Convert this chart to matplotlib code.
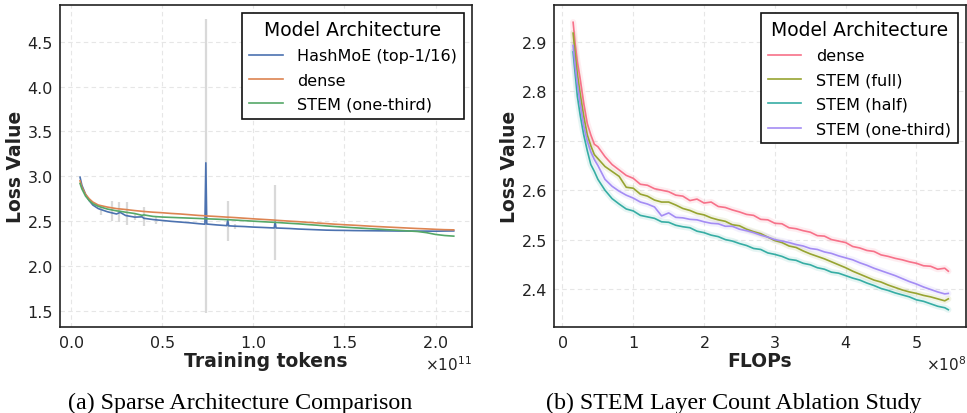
import matplotlib
matplotlib.use("Agg")
import matplotlib.pyplot as plt
import numpy as np

# ---------------- (a) Sparse Architecture Comparison ----------------
tokens_e11 = [0.05, 0.06, 0.08, 0.10, 0.12, 0.15, 0.20, 0.25, 0.27, 0.30, 0.35, 0.39, 0.40,
              0.45, 0.50, 0.55, 0.60, 0.65, 0.70, 0.735, 0.74, 0.745, 0.80, 0.855, 0.86, 0.865,
              0.90, 0.95, 1.00, 1.05, 1.115, 1.12, 1.125, 1.20, 1.25, 1.30, 1.35, 1.40, 1.45,
              1.50, 1.55, 1.60, 1.65, 1.70, 1.75, 1.80, 1.85, 1.90, 1.95, 2.00, 2.05, 2.10]

hashmoe = [2.99, 2.90, 2.80, 2.73, 2.68, 2.640, 2.605, 2.580, 2.598, 2.563, 2.545, 2.548, 2.532,
           2.518, 2.508, 2.498, 2.490, 2.482, 2.472, 2.466, 3.150, 2.468, 2.458, 2.450, 2.510, 2.448,
           2.444, 2.440, 2.434, 2.430, 2.424, 2.490, 2.424, 2.418, 2.412, 2.408, 2.404, 2.400, 2.398,
           2.397, 2.395, 2.394, 2.393, 2.392, 2.391, 2.390, 2.390, 2.389, 2.389, 2.388, 2.390, 2.391]

dense_a = [2.95, 2.88, 2.80, 2.75, 2.713, 2.680, 2.657, 2.640, 2.636, 2.630, 2.618, 2.610, 2.608,
           2.600, 2.594, 2.586, 2.580, 2.572, 2.564, 2.560, 2.559, 2.558, 2.552, 2.545, 2.545, 2.544,
           2.540, 2.533, 2.526, 2.520, 2.512, 2.511, 2.510, 2.500, 2.494, 2.487, 2.480, 2.473, 2.466,
           2.460, 2.455, 2.449, 2.443, 2.438, 2.433, 2.428, 2.423, 2.418, 2.414, 2.409, 2.405, 2.403]

stem_third_a = [2.92, 2.86, 2.78, 2.73, 2.695, 2.665, 2.635, 2.615, 2.610, 2.600, 2.585, 2.565, 2.570,
                2.553, 2.546, 2.542, 2.538, 2.534, 2.530, 2.527, 2.527, 2.526, 2.522, 2.517, 2.516, 2.516,
                2.512, 2.506, 2.500, 2.494, 2.487, 2.486, 2.486, 2.476, 2.470, 2.462, 2.455, 2.447, 2.440,
                2.433, 2.427, 2.421, 2.415, 2.409, 2.403, 2.397, 2.391, 2.385, 2.372, 2.352, 2.340, 2.333]

# gray vertical spread markers (x in 1e11, low, high)
spread_x = [0.163, 0.223, 0.263, 0.308, 0.35, 0.40, 0.466, 0.74, 0.86, 0.90, 1.12]
spread_lo = [2.57, 2.50, 2.49, 2.46, 2.51, 2.45, 2.47, 1.48, 2.28, 2.41, 2.07]
spread_hi = [2.68, 2.72, 2.71, 2.71, 2.59, 2.66, 2.55, 4.75, 2.73, 2.47, 2.90]

labels_a = ["HashMoE (top-1/16)", "dense", "STEM (one-third)"]
colors_a = ["#4C72B0", "#DD8452", "#55A868"]

# ---------------- (b) STEM Layer Count Ablation Study ----------------
flops_e8 = [0.15, 0.18, 0.21, 0.25, 0.30, 0.35, 0.40, 0.45, 0.50, 0.60, 0.70, 0.80, 0.90, 1.00,
            1.10, 1.20, 1.30, 1.40, 1.50, 1.60, 1.70, 1.80, 1.90, 2.00, 2.10, 2.20, 2.30, 2.40,
            2.50, 2.60, 2.70, 2.80, 2.90, 3.00, 3.10, 3.20, 3.30, 3.40, 3.50, 3.60, 3.70, 3.80,
            3.90, 4.00, 4.10, 4.20, 4.30, 4.40, 4.50, 4.60, 4.70, 4.80, 4.90, 5.00, 5.10, 5.20,
            5.30, 5.40, 5.45]

dense_b = [2.940, 2.895, 2.860, 2.825, 2.776, 2.735, 2.712, 2.693, 2.688, 2.668, 2.652, 2.641, 2.630, 2.624,
           2.612, 2.610, 2.603, 2.600, 2.597, 2.590, 2.588, 2.579, 2.582, 2.574, 2.576, 2.567, 2.565, 2.560,
           2.556, 2.551, 2.549, 2.541, 2.540, 2.533, 2.532, 2.524, 2.522, 2.518, 2.515, 2.508, 2.507, 2.500,
           2.497, 2.494, 2.486, 2.483, 2.478, 2.476, 2.469, 2.466, 2.462, 2.459, 2.455, 2.452, 2.447, 2.446,
           2.440, 2.442, 2.436]

stem_full = [2.918, 2.875, 2.835, 2.795, 2.750, 2.712, 2.690, 2.672, 2.664, 2.648, 2.638, 2.628, 2.606, 2.604,
             2.592, 2.588, 2.580, 2.576, 2.576, 2.570, 2.563, 2.559, 2.553, 2.550, 2.544, 2.540, 2.537, 2.530,
             2.528, 2.521, 2.516, 2.512, 2.505, 2.498, 2.494, 2.487, 2.484, 2.477, 2.471, 2.466, 2.461, 2.455,
             2.449, 2.443, 2.436, 2.430, 2.424, 2.418, 2.414, 2.408, 2.403, 2.398, 2.394, 2.391, 2.387, 2.384,
             2.380, 2.376, 2.380]

stem_half = [2.880, 2.835, 2.790, 2.752, 2.712, 2.680, 2.652, 2.638, 2.622, 2.600, 2.583, 2.572, 2.562, 2.558,
             2.549, 2.546, 2.543, 2.536, 2.535, 2.529, 2.526, 2.524, 2.517, 2.514, 2.509, 2.506, 2.500, 2.497,
             2.492, 2.488, 2.482, 2.480, 2.473, 2.470, 2.466, 2.460, 2.458, 2.452, 2.449, 2.443, 2.440, 2.434,
             2.432, 2.427, 2.422, 2.418, 2.412, 2.407, 2.401, 2.397, 2.392, 2.388, 2.384, 2.378, 2.375, 2.370,
             2.365, 2.362, 2.358]

stem_third_b = [2.893, 2.850, 2.815, 2.775, 2.730, 2.700, 2.678, 2.662, 2.650, 2.622, 2.608, 2.598, 2.590, 2.584,
                2.576, 2.572, 2.566, 2.548, 2.554, 2.545, 2.544, 2.541, 2.540, 2.536, 2.533, 2.532, 2.527, 2.527,
                2.521, 2.518, 2.514, 2.509, 2.505, 2.500, 2.497, 2.494, 2.490, 2.487, 2.482, 2.480, 2.475, 2.472,
                2.467, 2.463, 2.459, 2.453, 2.448, 2.442, 2.437, 2.432, 2.427, 2.421, 2.415, 2.410, 2.404, 2.399,
                2.394, 2.390, 2.391]

labels_b = ["dense", "STEM (full)", "STEM (half)", "STEM (one-third)"]
colors_b = ["#f77189", "#97a431", "#36ada4", "#a48cf4"]

# ---------------- figure ----------------
plt.rcParams["font.family"] = ["DejaVu Sans"]
fig = plt.figure(figsize=(9.67, 4.14), dpi=100)
ax1 = fig.add_axes([60 / 967, 1 - 328 / 414, 412 / 967, 322 / 414])
ax2 = fig.add_axes([554 / 967, 1 - 328 / 414, 412 / 967, 322 / 414])


def style(ax):
    ax.set_facecolor("white")
    ax.grid(True, color="#e6e6e6", linestyle=(0, (4, 3)), linewidth=0.8)
    ax.set_axisbelow(True)
    for s in ax.spines.values():
        s.set_color("#222222")
        s.set_linewidth(1.2)
    ax.tick_params(axis="both", length=0, labelsize=11.5, pad=5, colors="#222222")
    fmt = matplotlib.ticker.ScalarFormatter(useMathText=True)
    ax.xaxis.set_major_formatter(fmt)
    ax.xaxis.get_offset_text().set_fontsize(11)


style(ax1)
style(ax2)

# (a)
x_a = np.array(tokens_e11) * 1e11
ax1.vlines(np.array(spread_x) * 1e11, spread_lo, spread_hi, color="#d9d9d9", linewidth=1.6, zorder=1)
for ys, c, lab in zip([hashmoe, dense_a, stem_third_a], colors_a, labels_a):
    ax1.plot(x_a, ys, color=c, linewidth=1.2, label=lab, zorder=3)
ax1.set_xlim(-0.06e11, 2.2e11)
ax1.set_ylim(1.32, 4.91)
ax1.set_xticks(np.array([0.0, 0.5, 1.0, 1.5, 2.0]) * 1e11)
ax1.set_yticks([1.5, 2.0, 2.5, 3.0, 3.5, 4.0, 4.5])
ax1.set_xlabel("Training tokens", fontsize=13.5, fontweight="bold", labelpad=1, color="#222222")
ax1.set_ylabel("Loss Value", fontsize=13.5, fontweight="bold", labelpad=2, color="#222222")

# (b)
x_b = np.array(flops_e8) * 1e8
for ys, c, lab in zip([dense_b, stem_full, stem_half, stem_third_b], colors_b, labels_b):
    ax2.plot(x_b, ys, color=c, linewidth=4.5, alpha=0.12, solid_capstyle="round", zorder=2)
    ax2.plot(x_b, ys, color=c, linewidth=1.2, label=lab, zorder=3)
ax2.set_xlim(-0.12e8, 5.70e8)
ax2.set_ylim(2.323, 2.975)
ax2.set_xticks(np.array([0, 1, 2, 3, 4, 5]) * 1e8)
ax2.set_yticks([2.4, 2.5, 2.6, 2.7, 2.8, 2.9])
ax2.set_xlabel("FLOPs", fontsize=13.5, fontweight="bold", labelpad=1, color="#222222")
ax2.set_ylabel("Loss Value", fontsize=13.5, fontweight="bold", labelpad=2, color="#222222")

for ax in (ax1, ax2):
    leg = ax.legend(title="Model Architecture", loc="upper right", fontsize=11.5,
                    title_fontsize=13.5, frameon=True, fancybox=False, framealpha=1,
                    edgecolor="#111111", handlelength=2.1, handletextpad=0.9,
                    borderaxespad=0.5, labelspacing=0.58, borderpad=0.45)
    leg.get_frame().set_linewidth(1.2)

fig.text(240 / 967, 1 - 403 / 414, "(a) Sparse Architecture Comparison", ha="center", va="center",
         fontsize=17.3, family="Liberation Serif")
fig.text(734 / 967, 1 - 403 / 414, "(b) STEM Layer Count Ablation Study", ha="center", va="center",
         fontsize=17.3, family="Liberation Serif")

fig.savefig("out.png", dpi=100)
